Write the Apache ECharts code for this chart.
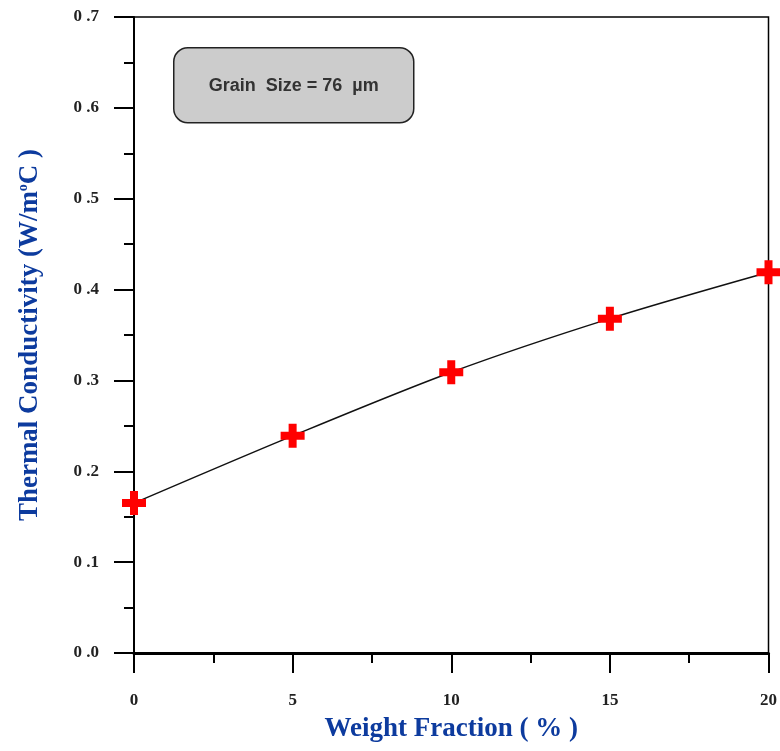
<!DOCTYPE html>
<html>
<head>
<meta charset="utf-8">
<script src="https://cdn.jsdelivr.net/npm/echarts@6/dist/echarts.min.js"></script>
<style>
  html, body { margin: 0; padding: 0; background: #fff; }
  #chart { width: 780px; height: 751px; }
</style>
</head>
<body>
<div id="chart"></div>
<script>
// weight fraction (%) and measured conductivity
var fractions = [0, 5, 10, 15, 20];
var conductivity = [0.165, 0.239, 0.309, 0.368, 0.419];
var boxText = "Grain  Size = 76  µm";

var blue = "#0d3b9e";
var plus = "path://M8,0H16V8H24V16H16V24H8V16H0V8H8Z";

var myChart = echarts.init(document.getElementById("chart"));
var option = {
  backgroundColor: "#fff",
  animation: false,
  grid: {
    left: 134, right: 8, top: 17, bottom: 98,
    show: true, borderColor: "#000", borderWidth: 1.5
  },
  xAxis: {
    type: "value",
    min: 0, max: 20, interval: 5,
    name: "Weight Fraction ( % )",
    nameLocation: "middle",
    nameGap: 63,
    nameTextStyle: { color: blue, fontFamily: "Liberation Serif", fontWeight: "bold", fontSize: 27 },
    axisLine: { show: true, lineStyle: { color: "#000", width: 3 } },
    axisTick: { show: true, length: 20, lineStyle: { color: "#000", width: 2 } },
    minorTick: { show: true, splitNumber: 2, length: 10, lineStyle: { color: "#000", width: 2 } },
    splitLine: { show: false },
    axisLabel: { margin: 39, color: "#222", fontFamily: "Liberation Serif", fontWeight: "bold", fontSize: 17 }
  },
  yAxis: {
    type: "value",
    min: 0, max: 0.7, interval: 0.1,
    name: "Thermal Conductivity (W/m{sup|o}C )",
    nameLocation: "middle",
    nameGap: 90,
    nameTextStyle: {
      color: blue, fontFamily: "Liberation Serif", fontWeight: "bold", fontSize: 27,
      rich: {
        sup: { color: blue, fontFamily: "Liberation Serif", fontSize: 14, verticalAlign: "bottom", padding: [0, 0, 14, 0] }
      }
    },
    axisLine: { show: true, lineStyle: { color: "#000", width: 2 } },
    axisTick: { show: true, length: 20, lineStyle: { color: "#000", width: 2 } },
    minorTick: { show: true, splitNumber: 2, length: 10, lineStyle: { color: "#000", width: 2 } },
    splitLine: { show: false },
    axisLabel: {
      margin: 35, color: "#222", fontFamily: "Liberation Serif", fontWeight: "bold", fontSize: 17,
      formatter: function (v) { return v.toFixed(1).replace(".", " ."); }
    }
  },
  graphic: [
    {
      type: "group", left: 173, top: 47,
      children: [
        { type: "rect", shape: { x: 0, y: 0, width: 240, height: 75, r: 14 },
          style: { fill: "#cccccc", stroke: "#222", lineWidth: 1.5 } },
        { type: "text", x: 120, y: 38,
          style: { text: boxText, fill: "#333", font: "bold 18px 'Liberation Sans'", align: "center", verticalAlign: "middle" } }
      ]
    }
  ],
  series: [
    {
      type: "line",
      data: fractions.map(function (f, i) { return [f, conductivity[i]]; }),
      smooth: 0.3,
      symbol: plus,
      symbolSize: 24,
      itemStyle: { color: "#ff0000" },
      lineStyle: { color: "#111", width: 1.5 },
      clip: false,
      z: 3
    }
  ]
};
myChart.setOption(option);
</script>
</body>
</html>
